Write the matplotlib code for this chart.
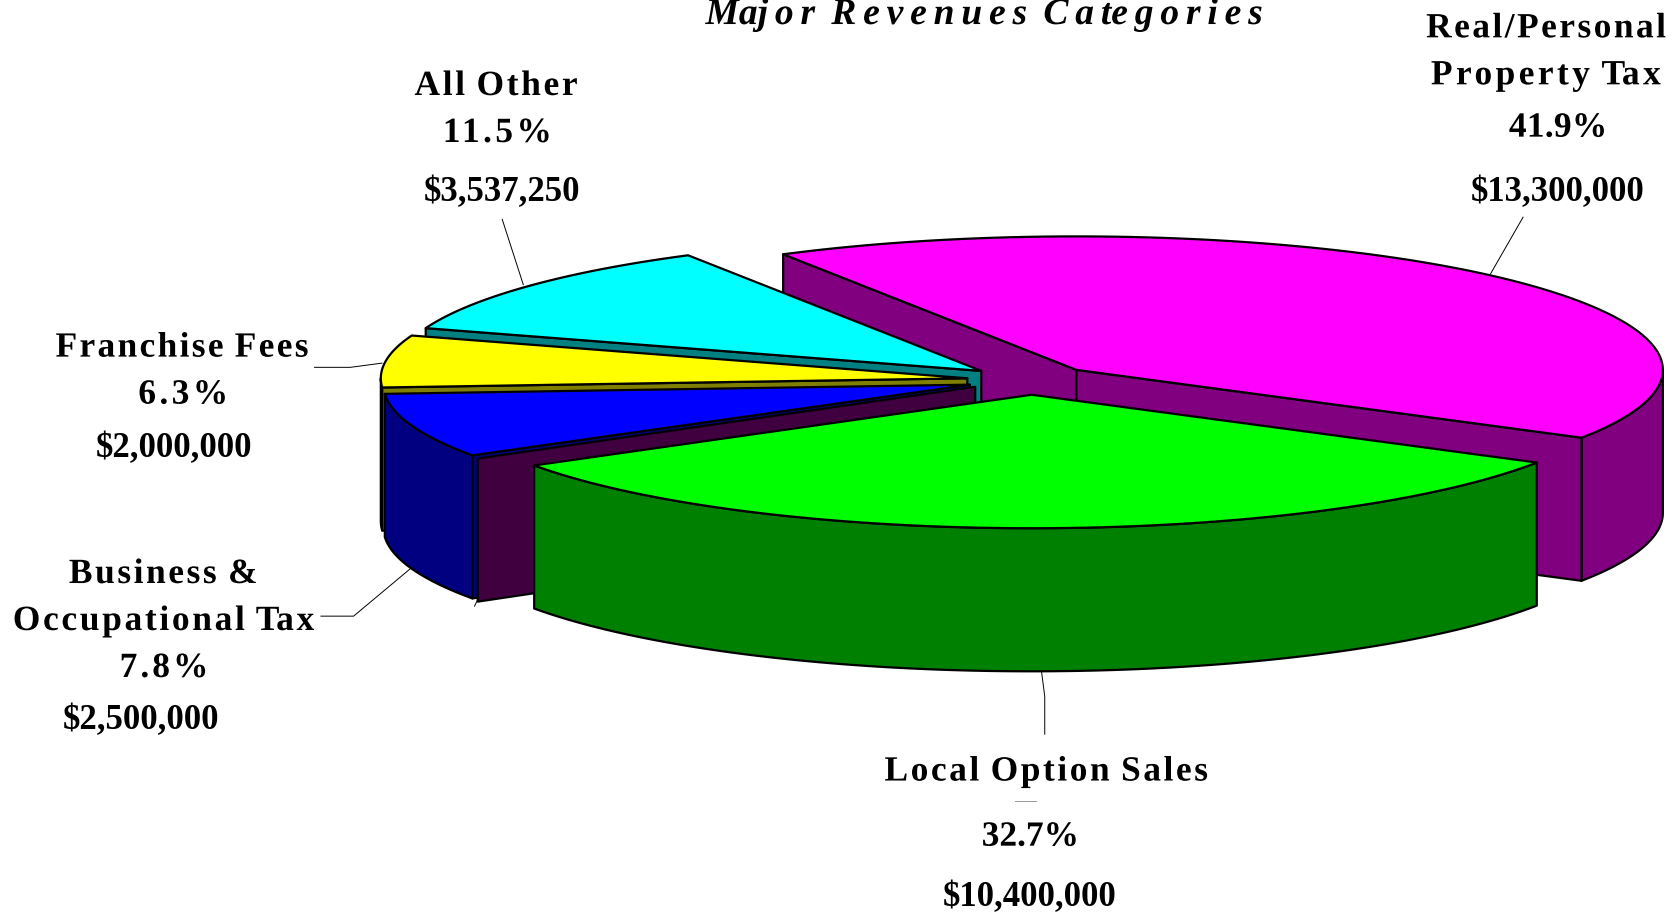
import numpy as np
import matplotlib
matplotlib.use('Agg')
import matplotlib.pyplot as plt
from matplotlib.patches import Polygon
from matplotlib.path import Path
from matplotlib.patheffects import AbstractPathEffect
from matplotlib.transforms import IdentityTransform

plt.rcParams['font.family'] = ['Liberation Serif', 'DejaVu Serif']

# slices, clockwise from the back
names = [['Real/Personal', 'Property Tax'], ['Local Option Sales'],
         ['Business &', 'Occupational Tax'], ['Franchise Fees'], ['All Other']]
percents = [41.9, 32.7, 7.8, 6.3, 11.5]
dollars = [13300000, 10400000, 2500000, 2000000, 3537250]
top_colors = ['#FF00FF', '#00FF00', '#0000FF', '#FFFF00', '#00FFFF']
side_colors = ['#800080', '#008000', '#000080', '#808000', '#008080']
draw_order = [0, 4, 3, 2, 1]

# the axes run in pixels of the shrunk view of the picture
cx, cy = 965, 356
rx, ry = 549, 125
depth = 134
explode = 60
start_angle = 120

fig = plt.figure(figsize=(16.75, 9.13), dpi=100)
ax = fig.add_axes([0, 0, 1, 1])
ax.set_xlim(0, 1568)
ax.set_ylim(855, 0)
ax.axis('off')


class Tracking(AbstractPathEffect):
    # spreads the glyphs of a text so that it fills a given width
    def __init__(self, center, width):
        super().__init__()
        self.center = center
        self.width = width

    def draw_path(self, renderer, gc, tpath, affine, rgbFace=None):
        verts = affine.transform(tpath.vertices)
        codes = tpath.codes
        starts = list(np.where(codes == Path.MOVETO)[0]) + [len(codes)]
        groups = []
        for a, b in zip(starts[:-1], starts[1:]):
            groups.append([verts[a:b, 0].min(), verts[a:b, 0].max(), [(a, b)]])
        groups.sort(key=lambda g: g[0])
        glyphs = []
        for g in groups:
            # a contour inside the previous one belongs to the same glyph
            if glyphs and g[0] < glyphs[-1][1] - 0.5:
                glyphs[-1][1] = max(glyphs[-1][1], g[1])
                glyphs[-1][2] += g[2]
            else:
                glyphs.append(g)
        x0 = glyphs[0][0]
        x1 = max(g[1] for g in glyphs)
        gap = (self.width - (x1 - x0)) / max(len(glyphs) - 1, 1)
        out = verts.copy()
        for k, g in enumerate(glyphs):
            for a, b in g[2]:
                out[a:b, 0] += self.center - self.width / 2 - x0 + k * gap
        renderer.draw_path(gc, Path(out, codes), IdentityTransform(), rgbFace)


def label(x, y, s, width=None, **kw):
    t = ax.text(x, y, s, ha='center', color='black', fontweight='bold', **kw)
    if width is not None:
        px = 1675 / 1568
        t.set_path_effects([Tracking(ax.transData.transform((x, y))[0], width * px)])
    return t


def shape(pts, color, lw=1.6):
    ax.add_patch(Polygon(pts, closed=True, facecolor=color, edgecolor='black',
                         linewidth=lw, joinstyle='round'))


def face(ox, oy, t, color):
    # flat cut face going from the centre of a slice to its rim
    x = ox + rx * np.cos(t)
    y = oy - ry * np.sin(t)
    shape([(ox, oy), (x, y), (x, y + depth), (ox, oy + depth)], color)


spans = np.array(percents) / sum(percents) * 360
ends = start_angle - np.cumsum(spans)
begins = ends + spans

for i in draw_order:
    t0, t1 = np.radians(begins[i]), np.radians(ends[i])
    mid = (t0 + t1) / 2
    ox = cx + explode * np.cos(mid)
    oy = cy - explode * np.sin(mid) * ry / rx
    t = np.linspace(t0, t1, 200)
    ex = ox + rx * np.cos(t)
    ey = oy - ry * np.sin(t)

    # outer wall, front half only
    front = np.sin(t) <= 0
    if front.any():
        wall = list(zip(ex[front], ey[front])) + list(zip(ex[front][::-1], ey[front][::-1] + depth))
        shape(wall, side_colors[i])

    # cut faces that look towards the viewer
    if np.cos(t0) < 0:
        face(ox, oy, t0, side_colors[i])
        if i == 2:
            # the blue slice shows a dark purple face behind a thin navy strip
            shape([(ox + 5, oy + 2), (ex[0] + 5, ey[0] + 3), (ex[0] + 5, ey[0] + depth + 3),
                   (ox + 5, oy + depth)], '#400040')
    if np.cos(t1) > 0:
        face(ox, oy, t1, side_colors[i])

    shape([(ox, oy)] + list(zip(ex, ey)), top_colors[i])

# leader lines
leaders = [([1395, 1426], [257, 203]),
           ([490, 470], [267, 205]),
           ([358, 328, 294], [340, 344, 344]),
           ([386, 331, 300], [531, 577, 577]),
           ([975, 978, 978], [629, 652, 688]),
           ([447, 444], [562, 568])]
for lx, ly in leaders:
    ax.plot(lx, ly, color='black', lw=0.7, solid_capstyle='butt')
ax.plot([950, 970], [750, 750], color='#999999', lw=0.7)

label(920.5, 22.5, 'Major Revenues Categories', 521, va='baseline', fontsize=27, fontstyle='italic')

name_pos = [[(1447, 27), (1447, 71)], [(979, 723)], [(152, 538), (153, 582)], [(170, 326)], [(464, 81)]]
name_width = [[224, 215], [302], [175, 282], [236], [152]]
pct_pos = [(1457, 120), (963, 784), (152, 626), (170, 370), (464, 125)]
pct_width = [89, 88, 80, 81, 99]
dollar_pos = [(1458, 180), (964, 841), (132, 675), (163, 420), (470, 180)]
for i in range(len(names)):
    for line, (x, y), w in zip(names[i], name_pos[i], name_width[i]):
        label(x, y, line, w, va='center', fontsize=25.5)
    label(*pct_pos[i], f'{percents[i]}%', pct_width[i], va='center', fontsize=25.5)
    label(*dollar_pos[i], f'${dollars[i]:,}', va='center', fontsize=25)

fig.savefig('out.png', dpi=100)
